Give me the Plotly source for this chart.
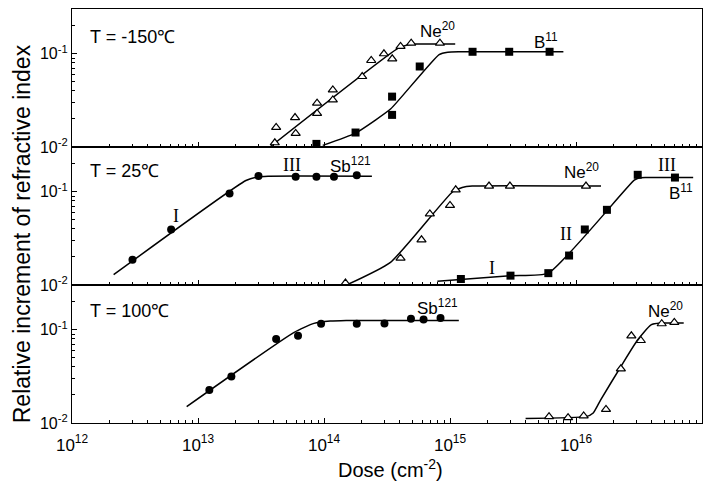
import plotly.graph_objects as go
from plotly.subplots import make_subplots

# ---------------- data (dose in cm^-2, relative increment) ----------------
# Panel 1: T = -150 C
p1_ne_dose = [4.07e13, 4.17e13, 5.89e13, 5.96e13, 8.81e13, 8.81e13, 1.175e14, 1.175e14,
              2.01e14, 2.37e14, 2.99e14, 3.48e14, 4.05e14, 4.92e14, 8.32e14]
p1_ne_val = [0.0111, 0.0162, 0.0207, 0.0140, 0.0295, 0.0229, 0.0410, 0.0320,
             0.0570, 0.0847, 0.100, 0.0883, 0.120, 0.130, 0.130]
p1_ne_fit_dose = [3.72e13, 3.89e14, 4.6e14, 5.4e14, 1.1e15]
p1_ne_fit_val = [0.0100, 0.115, 0.124, 0.127, 0.127]

p1_b_dose = [8.71e13, 1.78e14, 3.47e14, 3.47e14, 5.75e14, 1.51e15, 2.95e15, 6.17e15]
p1_b_val = [0.0108, 0.0143, 0.0347, 0.0221, 0.0730, 0.105, 0.105, 0.105]
p1_b_fit_dose = [9.77e13, 1.78e14, 2.51e14, 3.39e14, 8.2e14, 9.6e14, 1.2e15, 7.94e15]
p1_b_fit_val = [0.0104, 0.0141, 0.0191, 0.0257, 0.0980, 0.104, 0.105, 0.105]

# Panel 2: T = 25 C
p2_sb_dose = [3.02e12, 6.12e12, 1.78e13, 3.02e13, 5.96e13, 8.71e13, 1.20e14, 1.82e14]
p2_sb_val = [0.0186, 0.0394, 0.0955, 0.148, 0.145, 0.145, 0.145, 0.150]
p2_sb_fit_dose = [2.14e12, 2.40e13, 2.95e13, 3.6e13, 2.40e14]
p2_sb_fit_val = [0.0129, 0.132, 0.144, 0.147, 0.147]

p2_ne_dose = [1.48e14, 4.05e14, 5.94e14, 6.92e14, 1.0e15, 1.11e15, 2.04e15, 2.99e15, 1.20e16]
p2_ne_val = [0.0105, 0.0194, 0.0305, 0.0579, 0.0713, 0.105, 0.115, 0.115, 0.115]
p2_ne_fit_dose = [1.51e14, 3.37e14, 1.05e15, 1.25e15, 1.5e15, 1.58e16]
p2_ne_fit_val = [0.0100, 0.0175, 0.100, 0.111, 0.115, 0.115]

p2_b_dose = [1.22e15, 3.02e15, 6.03e15, 8.81e15, 1.175e16, 1.76e16, 3.09e16, 6.10e16]
p2_b_val = [0.0116, 0.0126, 0.0134, 0.0207, 0.0394, 0.064, 0.152, 0.142]
p2_b_fit_dose = [7.94e14, 3.02e15, 6.03e15, 2.9e16, 3.2e16, 3.6e16, 8.51e16]
p2_b_fit_val = [0.0110, 0.0126, 0.0134, 0.133, 0.141, 0.142, 0.142]

# Panel 3: T = 100 C
p3_sb_dose = [1.23e13, 1.84e13, 4.17e13, 6.22e13, 9.48e13, 1.82e14, 3.02e14, 4.90e14, 6.17e14, 8.41e14]
p3_sb_val = [0.0226, 0.0315, 0.0794, 0.0861, 0.116, 0.116, 0.117, 0.131, 0.129, 0.134]
p3_sb_fit_dose = [8.13e12, 5.75e13, 8.32e13, 1.12e14, 1.5e14, 1.175e15]
p3_sb_fit_val = [0.0150, 0.0933, 0.117, 0.124, 0.126, 0.126]

p3_ne_dose = [6.11e15, 8.65e15, 1.15e16, 1.73e16, 2.27e16, 2.75e16, 3.27e16, 4.79e16, 6.03e16]
p3_ne_val = [0.0117, 0.0114, 0.0119, 0.0140, 0.0381, 0.0861, 0.0767, 0.116, 0.120]
p3_ne_fit_dose = [3.98e15, 1.2e16, 1.37e16, 1.57e16, 2.27e16, 3.09e16, 3.94e16, 4.68e16, 7.16e16]
p3_ne_fit_val = [0.0112, 0.0117, 0.0128, 0.0177, 0.0403, 0.078, 0.113, 0.118, 0.118]

x_tickvals = [1e12, 1e13, 1e14, 1e15, 1e16, 1e17]
x_ticktext = ["10<sup>12</sup>", "10<sup>13</sup>", "10<sup>14</sup>",
              "10<sup>15</sup>", "10<sup>16</sup>", "10<sup>17</sup>"]
y_tickvals = [0.01, 0.1]
y_ticktext = ["10<sup>-2</sup>", "10<sup>-1</sup>"]

# ---------------- figure ----------------
FONT = "Liberation Sans, Arial, sans-serif"
SERIF = "Liberation Serif, Times New Roman, serif"

fig = make_subplots(rows=3, cols=1, shared_xaxes=True, vertical_spacing=0)

tri = dict(symbol="triangle-up", size=8, color="white", line=dict(color="black", width=1.2))
sq = dict(symbol="square", size=8, color="black")
circ = dict(symbol="circle", size=8, color="black")
fitline = dict(color="black", width=1.5, shape="spline", smoothing=0.5)


def add_series(row, fx, fy, px, py, marker):
    fig.add_trace(go.Scatter(x=fx, y=fy, mode="lines", line=fitline, showlegend=False,
                             hoverinfo="skip"), row=row, col=1)
    fig.add_trace(go.Scatter(x=px, y=py, mode="markers", marker=marker, showlegend=False),
                  row=row, col=1)


add_series(1, p1_ne_fit_dose, p1_ne_fit_val, p1_ne_dose, p1_ne_val, tri)
add_series(1, p1_b_fit_dose, p1_b_fit_val, p1_b_dose, p1_b_val, sq)
add_series(2, p2_sb_fit_dose, p2_sb_fit_val, p2_sb_dose, p2_sb_val, circ)
add_series(2, p2_ne_fit_dose, p2_ne_fit_val, p2_ne_dose, p2_ne_val, tri)
add_series(2, p2_b_fit_dose, p2_b_fit_val, p2_b_dose, p2_b_val, sq)
add_series(3, p3_sb_fit_dose, p3_sb_fit_val, p3_sb_dose, p3_sb_val, circ)
add_series(3, p3_ne_fit_dose, p3_ne_fit_val, p3_ne_dose, p3_ne_val, tri)

for r in range(1, 4):
    fig.update_xaxes(type="log", range=[12, 17], tickvals=x_tickvals, ticktext=x_ticktext,
                     ticks="inside", ticklen=5, tickwidth=1, tickcolor="black",
                     minor=dict(ticks="inside", ticklen=3, tickcolor="black", dtick="D1"),
                     showline=True, linecolor="black", linewidth=1.2, mirror=True,
                     showgrid=False, zeroline=False, automargin=False,
                     tickfont=dict(family=FONT, size=17, color="black"),
                     ticklabelstandoff=6, row=r, col=1)
    fig.update_yaxes(type="log", range=[-2, -0.52], tickvals=y_tickvals, ticktext=y_ticktext,
                     ticks="inside", ticklen=5, tickwidth=1, tickcolor="black",
                     minor=dict(ticks="inside", ticklen=3, tickcolor="black", dtick="D1"),
                     showline=True, linecolor="black", linewidth=1.2, mirror=True,
                     showgrid=False, zeroline=False, automargin=False,
                     tickfont=dict(family=FONT, size=16, color="black"),
                     ticklabelstandoff=0, row=r, col=1)

fig.update_xaxes(showticklabels=False, row=1, col=1)
fig.update_xaxes(showticklabels=False, row=2, col=1)

annots = []


def lab(text, x, y, ax, ay, size=18, family=FONT, xanchor="center"):
    annots.append(dict(text=text, x=x, y=y, xref=ax, yref=ay, showarrow=False,
                       xanchor=xanchor, yanchor="middle",
                       font=dict(family=family, size=size, color="black")))


# panel 1 (x, y)
lab("T = -150℃", 12.13, -0.817, "x", "y", xanchor="left")
lab("Ne<sup>20</sup>", 14.90, -0.742, "x", "y", size=17)
lab("B<sup>11</sup>", 15.76, -0.86, "x", "y", size=17)
# panel 2 (x2, y2)
lab("T = 25℃", 12.13, -0.774, "x2", "y2", xanchor="left")
lab("III", 13.745, -0.71, "x2", "y2", size=18, family=SERIF)
lab("Sb<sup>121</sup>", 14.21, -0.71, "x2", "y2", size=17)
lab("I", 12.827, -1.258, "x2", "y2", size=18, family=SERIF)
lab("Ne<sup>20</sup>", 16.046, -0.78, "x2", "y2", size=17)
lab("III", 16.72, -0.715, "x2", "y2", size=18, family=SERIF)
lab("B<sup>11</sup>", 16.833, -1.0, "x2", "y2", size=17)
lab("II", 15.92, -1.45, "x2", "y2", size=18, family=SERIF)
lab("I", 15.33, -1.817, "x2", "y2", size=18, family=SERIF)
# panel 3 (x3, y3)
lab("T = 100℃", 12.13, -0.801, "x3", "y3", xanchor="left")
lab("Sb<sup>121</sup>", 14.90, -0.753, "x3", "y3", size=17)
lab("Ne<sup>20</sup>", 16.714, -0.785, "x3", "y3", size=17)

# axis titles
annots.append(dict(text="Relative increment of refractive index", x=-0.079, y=0.4565,
                   xref="paper", yref="paper", showarrow=False, textangle=-90,
                   xanchor="center", yanchor="middle",
                   font=dict(family=FONT, size=23, color="black")))
annots.append(dict(text="Dose (cm<sup>-2</sup>)", x=0.505, y=-0.109,
                   xref="paper", yref="paper", showarrow=False,
                   xanchor="center", yanchor="middle",
                   font=dict(family=FONT, size=20, color="black")))

# the page body has an 8 px margin, so the figure is sized to fit the window from (8, 8)
fig.update_layout(width=709, height=476,
                  margin=dict(l=64, r=15, t=1, b=61, autoexpand=False),
                  paper_bgcolor="white", plot_bgcolor="white",
                  annotations=annots, font=dict(family=FONT, color="black"))

fig.write_html("out.html")
